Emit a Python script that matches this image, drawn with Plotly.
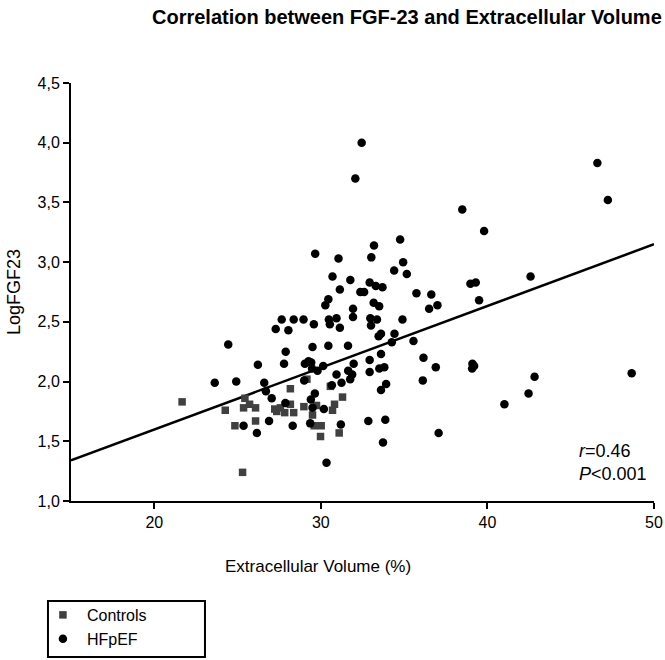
import plotly.graph_objects as go

# Controls (squares)
ctrl_ecv = [21.67, 24.26, 24.84, 25.3, 25.36, 25.44, 25.72, 26.08, 26.08, 27.23,
            27.35, 27.57, 27.83, 28.17, 28.17, 28.37, 28.98, 29.16, 29.5, 29.6,
            29.74, 29.98, 30.02, 30.57, 30.7, 30.82, 31.1, 31.3]
ctrl_fgf = [1.83, 1.76, 1.63, 1.24, 1.78, 1.86, 1.81, 1.78, 1.67, 1.77,
            1.75, 1.78, 1.74, 1.94, 1.81, 1.74, 1.79, 2.02, 1.72, 1.63,
            1.80, 1.54, 1.63, 1.96, 1.76, 1.81, 1.57, 1.87]

# HFpEF (circles)
hf_ecv = [32.45, 32.07, 46.6, 47.23, 38.49, 39.8, 34.76, 33.19, 29.66, 31.06,
          33.03, 34.94, 34.4, 35.16, 30.7, 31.77, 32.93, 33.3, 33.7, 31.14,
          32.37, 32.6, 35.74, 36.63, 30.45, 33.17, 33.5, 30.27, 31.93, 36.5,
          37.0, 42.59, 38.98, 39.3, 39.5, 27.65, 28.37, 28.96, 30.48, 30.94,
          31.93, 32.97, 33.37, 34.9, 27.29, 28.05, 29.58, 30.54, 31.14, 33.01,
          33.61, 33.47, 34.42, 34.26, 35.56, 24.44, 29.5, 30.45, 31.63, 27.89,
          33.61, 36.16, 26.22, 27.79, 29.04, 29.26, 29.42, 30.14, 31.97, 32.93,
          33.51, 33.81, 29.47, 29.80, 31.64, 31.88, 31.76, 30.94, 32.93, 36.9,
          39.1, 39.2, 39.08, 23.63, 24.92, 26.6, 29.0, 30.66, 31.24, 33.92,
          33.61, 36.12, 42.83, 48.66, 42.47, 41.02, 26.7, 29.64, 27.05, 29.40,
          27.87, 29.50, 30.18, 26.89, 25.36, 28.31, 29.36, 31.2, 32.85, 33.87,
          26.16, 33.73, 30.34, 37.07]
hf_fgf = [4.00, 3.70, 3.83, 3.52, 3.44, 3.26, 3.19, 3.14, 3.07, 3.03,
          3.04, 3.00, 2.93, 2.90, 2.88, 2.85, 2.83, 2.80, 2.79, 2.77,
          2.75, 2.75, 2.74, 2.73, 2.69, 2.66, 2.63, 2.64, 2.61, 2.61,
          2.64, 2.88, 2.82, 2.83, 2.68, 2.52, 2.52, 2.52, 2.52, 2.53,
          2.54, 2.53, 2.52, 2.52, 2.44, 2.43, 2.48, 2.48, 2.45, 2.47,
          2.40, 2.38, 2.40, 2.33, 2.34, 2.31, 2.29, 2.30, 2.30, 2.25,
          2.23, 2.20, 2.14, 2.15, 2.15, 2.17, 2.16, 2.13, 2.15, 2.18,
          2.11, 2.12, 2.11, 2.09, 2.09, 2.06, 2.02, 2.06, 2.08, 2.12,
          2.15, 2.13, 2.11, 1.99, 2.00, 1.99, 2.01, 1.97, 1.99, 1.98,
          1.93, 2.01, 2.04, 2.07, 1.90, 1.81, 1.92, 1.90, 1.86, 1.85,
          1.82, 1.78, 1.77, 1.67, 1.63, 1.63, 1.65, 1.64, 1.67, 1.68,
          1.57, 1.49, 1.32, 1.57]

# Regression line end points
fit_x = [15, 50]
fit_y = [1.34, 3.15]

x_ticks = [20, 30, 40, 50]
y_ticks = [1.0, 1.5, 2.0, 2.5, 3.0, 3.5, 4.0, 4.5]

FONT = "Liberation Sans, Arial, sans-serif"

fig = go.Figure()
fig.add_trace(go.Scatter(x=fit_x, y=fit_y, mode="lines",
                         line=dict(color="black", width=2.5),
                         showlegend=False, hoverinfo="skip"))
fig.add_trace(go.Scatter(x=ctrl_ecv, y=ctrl_fgf, mode="markers", name="Controls",
                         marker=dict(symbol="square", size=7.5, color="#404040")))
fig.add_trace(go.Scatter(x=hf_ecv, y=hf_fgf, mode="markers", name="HFpEF",
                         marker=dict(symbol="circle", size=8.5, color="black")))

fig.update_layout(
    width=665, height=660,
    margin=dict(l=71, r=11, t=83, b=159, autoexpand=False),
    paper_bgcolor="white", plot_bgcolor="white",
    font=dict(family=FONT, size=16, color="black"),
    separators=",.",
    showlegend=True,
    legend=dict(x=-0.055, y=-0.232, xanchor="left", yanchor="top",
                borderwidth=0, bgcolor="rgba(0,0,0,0)",
                font=dict(size=16, color="black"), itemsizing="trace",
                itemwidth=38, tracegroupgap=0),
    xaxis=dict(range=[15, 50], tickvals=x_ticks, ticks="outside", ticklen=6,
               tickwidth=2, tickcolor="black", showline=True, linecolor="black",
               linewidth=2, showgrid=False, zeroline=False, automargin=False,
               tickfont=dict(size=16, color="black")),
    yaxis=dict(range=[1, 4.5], tickvals=y_ticks, tickformat=".1f",
               ticks="outside", ticklen=6, tickwidth=2, tickcolor="black",
               showline=True, linecolor="black", linewidth=2, showgrid=False,
               zeroline=False, automargin=False,
               tickfont=dict(size=16, color="black"),
               title=dict(text="LogFGF23", font=dict(size=18, color="black"),
                          standoff=12)),
    shapes=[dict(type="rect", xref="paper", yref="paper",
                 x0=-0.0395, x1=0.2298, y0=-0.373, y1=-0.239,
                 line=dict(color="black", width=2), fillcolor="rgba(0,0,0,0)")],
    annotations=[
        dict(text="<b>Correlation between FGF-23 and Extracellular Volume</b>",
             xref="paper", yref="paper", x=0.576, y=1.0, yshift=66,
             xanchor="center", yanchor="middle", showarrow=False,
             font=dict(size=20, color="black")),
        dict(text="Extracellular Volume (%)", xref="paper", yref="paper",
             x=0.423, y=0, yshift=-65, xanchor="center", yanchor="middle",
             showarrow=False, font=dict(size=17, color="black")),
        dict(text="<i>r</i>=0.46<br><i>P</i><0.001", xref="paper", yref="paper",
             x=0.992, y=0.091, xanchor="right", yanchor="middle", align="left",
             showarrow=False, font=dict(size=18, color="black")),
    ],
)

fig.write_html("out.html",
               config={"displayModeBar": False},
               post_script="document.body.style.margin='0';"
                           "document.body.style.overflow='hidden';")
